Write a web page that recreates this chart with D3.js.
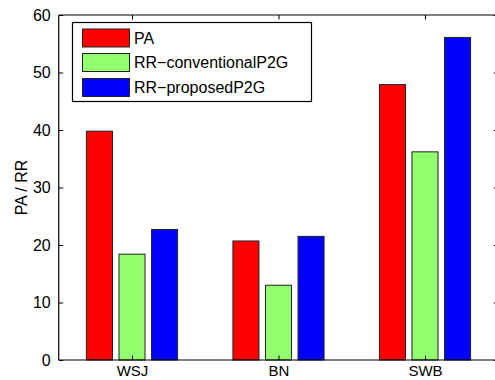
<!DOCTYPE html>
<html>
<head>
<meta charset="utf-8">
<script src="https://cdn.jsdelivr.net/npm/d3@7"></script>
<style>
  body { margin: 0; background: #fff; }
  svg { display: block; font-family: "Liberation Sans", Arial, sans-serif; }
</style>
</head>
<body>
<svg id="chart" width="495" height="380"></svg>
<script>
const categories = ["WSJ", "BN", "SWB"];
const seriesNames = ["PA", "RR\u2212conventionalP2G", "RR\u2212proposedP2G"];
const seriesColors = ["#ff0000", "#92ff6e", "#0000ff"];
const paValues = [39.8, 20.7, 47.9];
const rrConventional = [18.4, 13.0, 36.2];
const rrProposed = [22.7, 21.5, 56.1];
const yTicks = [0, 10, 20, 30, 40, 50, 60];
const yLabel = "PA / RR";

const series = [paValues, rrConventional, rrProposed];

const svg = d3.select("#chart");
const mLeft = 58.75, mRight = 498.25, mTop = 15, mBottom = 360;

const x = d3.scaleLinear().domain([0.5, 3.5]).range([mLeft, mRight]);
const y = d3.scaleLinear().domain([0, 60]).range([mBottom, mTop]);

const nS = series.length;
const groupWidth = Math.min(0.8, nS / (nS + 1.5));
const step = groupWidth / nS;
const barW = 0.8 * step;

// bars
series.forEach((vals, si) => {
  const off = -groupWidth / 2 + step * (si + 0.5);
  svg.append("g").selectAll("rect")
    .data(vals)
    .join("rect")
    .attr("x", (d, i) => x(i + 1 + off - barW / 2))
    .attr("width", x(barW) - x(0))
    .attr("y", d => y(d))
    .attr("height", d => y(0) - y(d))
    .attr("fill", seriesColors[si])
    .attr("stroke", "#222")
    .attr("stroke-width", 1);
});

// axes
const tickLen = 4.5;
const yAxisL = d3.axisLeft(y).tickValues(yTicks).tickSize(-tickLen).tickPadding(8).tickFormat(d3.format("d"));
const yAxisR = d3.axisRight(y).tickValues(yTicks).tickSize(-tickLen).tickFormat("");
const xAxisB = d3.axisBottom(x).tickValues([1, 2, 3]).tickSize(-tickLen).tickPadding(5.8).tickFormat(d => categories[d - 1]);
const xAxisT = d3.axisTop(x).tickValues([1, 2, 3]).tickSize(-tickLen).tickFormat("");

function style(g, fs) {
  g.selectAll(".domain").attr("stroke", "#000").attr("stroke-width", 1.2);
  g.selectAll(".tick line").attr("stroke", "#000");
  g.selectAll("text").attr("fill", "#000").attr("font-size", fs || 16).attr("font-family", "Liberation Sans, Arial, sans-serif");
}

svg.append("g").attr("transform", `translate(${mLeft},0)`).call(yAxisL).call(style).call(g => g.select(".domain").attr("d", `M0,${mTop}V${mBottom}`));
svg.append("g").attr("transform", `translate(${mRight},0)`).call(yAxisR).call(style).call(g => g.select(".domain").attr("d", `M0,${mTop}V${mBottom}`));
svg.append("g").attr("transform", `translate(0,${mBottom})`).call(xAxisB).call(g => style(g, 15)).call(g => g.select(".domain").attr("d", `M${mLeft},0H${mRight}`));
svg.append("g").attr("transform", `translate(0,${mTop})`).call(xAxisT).call(style).call(g => g.select(".domain").attr("d", `M${mLeft},0H${mRight}`));

// y label
svg.append("text")
  .attr("transform", `translate(27,${(mTop + mBottom) / 2}) rotate(-90)`)
  .attr("text-anchor", "middle")
  .attr("font-size", 16)
  .attr("fill", "#000")
  .text(yLabel);

// legend
const lg = svg.append("g");
lg.append("rect").attr("x", 72.5).attr("y", 22.5).attr("width", 239).attr("height", 79)
  .attr("fill", "#fff").attr("stroke", "#000").attr("stroke-width", 1.2);
const rowY = [29, 53.5, 78.5];
seriesNames.forEach((name, i) => {
  lg.append("rect").attr("x", 82.5).attr("y", rowY[i]).attr("width", 47).attr("height", 18)
    .attr("fill", seriesColors[i]).attr("stroke", "#222").attr("stroke-width", 1);
  lg.append("text").attr("x", 134).attr("y", rowY[i] + 9).attr("dy", "0.36em")
    .attr("font-size", 16).attr("fill", "#000").text(name);
});
</script>
</body>
</html>
